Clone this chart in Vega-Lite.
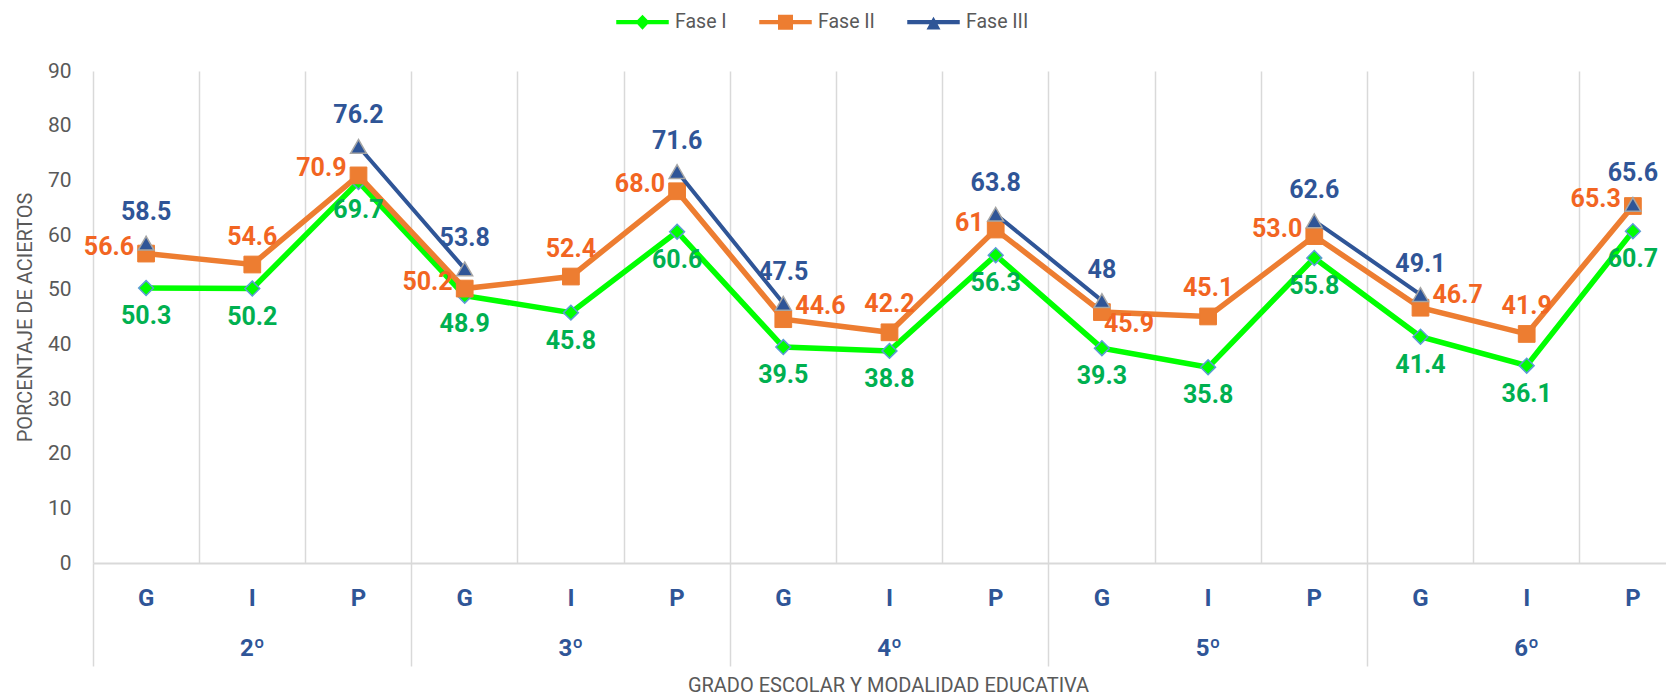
{
  "$schema": "https://vega.github.io/schema/vega-lite/v6.json",
  "width": 1593,
  "height": 492,
  "autosize": {"type": "none"},
  "padding": {"left": 93, "top": 71, "right": -20, "bottom": 133},
  "background": "#FFFFFF",
  "config": {
    "view": {"stroke": null},
    "font": "Roboto",
    "text": {"font": "Roboto", "fontWeight": "bold", "fontSize": 25, "baseline": "middle"}
  },
  "datasets": {
    "d": [
      {"grado": "2º", "modalidad": "G", "cat": "2º G", "fase": "Fase I", "valor": 50.3, "etiqueta": "50.3"},
      {"grado": "2º", "modalidad": "I", "cat": "2º I", "fase": "Fase I", "valor": 50.2, "etiqueta": "50.2"},
      {"grado": "2º", "modalidad": "P", "cat": "2º P", "fase": "Fase I", "valor": 69.7, "etiqueta": "69.7"},
      {"grado": "3º", "modalidad": "G", "cat": "3º G", "fase": "Fase I", "valor": 48.9, "etiqueta": "48.9"},
      {"grado": "3º", "modalidad": "I", "cat": "3º I", "fase": "Fase I", "valor": 45.8, "etiqueta": "45.8"},
      {"grado": "3º", "modalidad": "P", "cat": "3º P", "fase": "Fase I", "valor": 60.6, "etiqueta": "60.6"},
      {"grado": "4º", "modalidad": "G", "cat": "4º G", "fase": "Fase I", "valor": 39.5, "etiqueta": "39.5"},
      {"grado": "4º", "modalidad": "I", "cat": "4º I", "fase": "Fase I", "valor": 38.8, "etiqueta": "38.8"},
      {"grado": "4º", "modalidad": "P", "cat": "4º P", "fase": "Fase I", "valor": 56.3, "etiqueta": "56.3"},
      {"grado": "5º", "modalidad": "G", "cat": "5º G", "fase": "Fase I", "valor": 39.3, "etiqueta": "39.3"},
      {"grado": "5º", "modalidad": "I", "cat": "5º I", "fase": "Fase I", "valor": 35.8, "etiqueta": "35.8"},
      {"grado": "5º", "modalidad": "P", "cat": "5º P", "fase": "Fase I", "valor": 55.8, "etiqueta": "55.8"},
      {"grado": "6º", "modalidad": "G", "cat": "6º G", "fase": "Fase I", "valor": 41.4, "etiqueta": "41.4"},
      {"grado": "6º", "modalidad": "I", "cat": "6º I", "fase": "Fase I", "valor": 36.1, "etiqueta": "36.1"},
      {"grado": "6º", "modalidad": "P", "cat": "6º P", "fase": "Fase I", "valor": 60.7, "etiqueta": "60.7"},
      {"grado": "2º", "modalidad": "G", "cat": "2º G", "fase": "Fase II", "valor": 56.6, "etiqueta": "56.6"},
      {"grado": "2º", "modalidad": "I", "cat": "2º I", "fase": "Fase II", "valor": 54.6, "etiqueta": "54.6"},
      {"grado": "2º", "modalidad": "P", "cat": "2º P", "fase": "Fase II", "valor": 70.9, "etiqueta": "70.9"},
      {"grado": "3º", "modalidad": "G", "cat": "3º G", "fase": "Fase II", "valor": 50.2, "etiqueta": "50.2"},
      {"grado": "3º", "modalidad": "I", "cat": "3º I", "fase": "Fase II", "valor": 52.4, "etiqueta": "52.4"},
      {"grado": "3º", "modalidad": "P", "cat": "3º P", "fase": "Fase II", "valor": 68.0, "etiqueta": "68.0"},
      {"grado": "4º", "modalidad": "G", "cat": "4º G", "fase": "Fase II", "valor": 44.6, "etiqueta": "44.6"},
      {"grado": "4º", "modalidad": "I", "cat": "4º I", "fase": "Fase II", "valor": 42.2, "etiqueta": "42.2"},
      {"grado": "4º", "modalidad": "P", "cat": "4º P", "fase": "Fase II", "valor": 61, "etiqueta": "61"},
      {"grado": "5º", "modalidad": "G", "cat": "5º G", "fase": "Fase II", "valor": 45.9, "etiqueta": "45.9"},
      {"grado": "5º", "modalidad": "I", "cat": "5º I", "fase": "Fase II", "valor": 45.1, "etiqueta": "45.1"},
      {"grado": "5º", "modalidad": "P", "cat": "5º P", "fase": "Fase II", "valor": 59.8, "etiqueta": "53.0"},
      {"grado": "6º", "modalidad": "G", "cat": "6º G", "fase": "Fase II", "valor": 46.7, "etiqueta": "46.7"},
      {"grado": "6º", "modalidad": "I", "cat": "6º I", "fase": "Fase II", "valor": 41.9, "etiqueta": "41.9"},
      {"grado": "6º", "modalidad": "P", "cat": "6º P", "fase": "Fase II", "valor": 65.3, "etiqueta": "65.3"},
      {"grado": "2º", "modalidad": "G", "cat": "2º G", "fase": "Fase III", "valor": 58.5, "etiqueta": "58.5"},
      {"grado": "2º", "modalidad": "I", "cat": "2º I", "fase": "Fase III", "valor": null, "etiqueta": null},
      {"grado": "2º", "modalidad": "P", "cat": "2º P", "fase": "Fase III", "valor": 76.2, "etiqueta": "76.2"},
      {"grado": "3º", "modalidad": "G", "cat": "3º G", "fase": "Fase III", "valor": 53.8, "etiqueta": "53.8"},
      {"grado": "3º", "modalidad": "I", "cat": "3º I", "fase": "Fase III", "valor": null, "etiqueta": null},
      {"grado": "3º", "modalidad": "P", "cat": "3º P", "fase": "Fase III", "valor": 71.6, "etiqueta": "71.6"},
      {"grado": "4º", "modalidad": "G", "cat": "4º G", "fase": "Fase III", "valor": 47.5, "etiqueta": "47.5"},
      {"grado": "4º", "modalidad": "I", "cat": "4º I", "fase": "Fase III", "valor": null, "etiqueta": null},
      {"grado": "4º", "modalidad": "P", "cat": "4º P", "fase": "Fase III", "valor": 63.8, "etiqueta": "63.8"},
      {"grado": "5º", "modalidad": "G", "cat": "5º G", "fase": "Fase III", "valor": 48, "etiqueta": "48"},
      {"grado": "5º", "modalidad": "I", "cat": "5º I", "fase": "Fase III", "valor": null, "etiqueta": null},
      {"grado": "5º", "modalidad": "P", "cat": "5º P", "fase": "Fase III", "valor": 62.6, "etiqueta": "62.6"},
      {"grado": "6º", "modalidad": "G", "cat": "6º G", "fase": "Fase III", "valor": 49.1, "etiqueta": "49.1"},
      {"grado": "6º", "modalidad": "I", "cat": "6º I", "fase": "Fase III", "valor": null, "etiqueta": null},
      {"grado": "6º", "modalidad": "P", "cat": "6º P", "fase": "Fase III", "valor": 65.6, "etiqueta": "65.6"}
    ]
  },
  "data": {"name": "d"},
  "encoding": {
    "x": {
      "field": "cat", "type": "nominal",
      "scale": {"type": "band", "paddingInner": 0, "paddingOuter": 0,
        "domain": ["2º G","2º I","2º P","3º G","3º I","3º P","4º G","4º I","4º P","5º G","5º I","5º P","6º G","6º I","6º P"]},
      "axis": null
    },
    "y": {
      "field": "valor", "type": "quantitative",
      "scale": {"domain": [0, 90], "nice": false, "zero": true},
      "axis": null
    }
  },
  "layer": [
    {
      "transform": [{"filter": "datum.fase === 'Fase I'"}],
      "mark": {"type": "line", "color": "#00FF00", "strokeWidth": 5.5},
      "encoding": {
        "x": {
          "field": "cat", "type": "nominal",
          "axis": {
            "orient": "bottom", "bandPosition": 0,
            "grid": true, "gridColor": "#D9D9D9", "gridWidth": 1.5,
            "ticks": false, "tickSize": 0,
            "domain": true, "domainColor": "#D9D9D9", "domainWidth": 2,
            "labelPadding": 35, "labelBaseline": "middle", "labelAngle": 0,
            "labelFont": "Roboto", "labelFontWeight": "bold", "labelFontSize": 24, "labelColor": "#2F5597",
            "labelExpr": "split(datum.value, ' ')[1]", "labelOverlap": false,
            "title": null
          }
        },
        "y": {
          "field": "valor", "type": "quantitative",
          "axis": {
            "orient": "left", "values": [0,10,20,30,40,50,60,70,80,90],
            "grid": false, "domain": false, "ticks": false, "tickSize": 0,
            "labelPadding": 22, "labelFont": "Roboto", "labelFontSize": 21, "labelColor": "#595959",
            "title": "PORCENTAJE DE ACIERTOS", "titleFont": "Roboto", "titleFontSize": 20,
            "titleFontWeight": "normal", "titleColor": "#595959",
            "titleX": -68, "titleY": 246, "titleAngle": -90, "titleBaseline": "middle", "titleAlign": "center"
          }
        }
      }
    },
    {
      "transform": [{"filter": "datum.fase === 'Fase I'"}],
      "mark": {"type": "point", "shape": "diamond", "filled": true, "fill": "#00FF00", "stroke": "#5B9BD5", "strokeWidth": 1.5, "size": 220, "opacity": 1}
    },
    {
      "transform": [{"filter": "datum.fase === 'Fase II'"}],
      "mark": {"type": "line", "color": "#ED7D31", "strokeWidth": 5.5},
      "encoding": {
        "x": {
          "field": "cat", "type": "nominal",
          "axis": {
            "orient": "bottom", "bandPosition": 0,
            "values": ["2º G","3º G","4º G","5º G","6º G"],
            "labelOffset": 106.2,
            "grid": false, "domain": false,
            "ticks": true, "tickSize": 103, "tickColor": "#D9D9D9", "tickWidth": 1.5,
            "labelPadding": -18, "labelBaseline": "middle", "labelAngle": 0,
            "labelFont": "Roboto", "labelFontWeight": "bold", "labelFontSize": 24, "labelColor": "#2F5597",
            "labelExpr": "split(datum.value, ' ')[0]", "labelOverlap": false,
            "title": "GRADO ESCOLAR Y MODALIDAD EDUCATIVA", "titleFont": "Roboto", "titleFontSize": 20,
            "titleFontWeight": "normal", "titleColor": "#595959",
            "titleX": 795, "titleY": 122, "titleBaseline": "middle", "titleAlign": "center"
          }
        }
      }
    },
    {
      "transform": [{"filter": "datum.fase === 'Fase II'"}],
      "mark": {"type": "point", "shape": "square", "filled": true, "fill": "#ED7D31", "stroke": "#ED7D31", "strokeWidth": 1, "size": 280, "opacity": 1}
    },
    {
      "transform": [{"filter": "datum.fase === 'Fase III'"}],
      "mark": {"type": "line", "color": "#2F5597", "strokeWidth": 4}
    },
    {
      "transform": [{"filter": "datum.fase === 'Fase III'"}],
      "mark": {"type": "point", "shape": "triangle-up", "filled": true, "fill": "#2F5597", "stroke": "#A5A5A5", "strokeWidth": 1.5, "size": 250, "opacity": 1}
    },
    {
      "transform": [{"filter": "datum.fase === 'Fase I'"}],
      "mark": {"type": "text", "color": "#00B050", "dy": 28, "align": "center"},
      "encoding": {"text": {"field": "etiqueta"}}
    },
    {
      "transform": [{"filter": "datum.fase === 'Fase II' && indexof(['2º G','2º P','3º G','3º P','4º P','5º P','6º P'], datum.cat) >= 0"}],
      "mark": {"type": "text", "color": "#F26522", "dx": -12, "dy": -7, "align": "right"},
      "encoding": {"text": {"field": "etiqueta"}}
    },
    {
      "transform": [{"filter": "datum.fase === 'Fase II' && datum.modalidad === 'I'"}],
      "mark": {"type": "text", "color": "#F26522", "dy": -28, "align": "center"},
      "encoding": {"text": {"field": "etiqueta"}}
    },
    {
      "transform": [{"filter": "datum.fase === 'Fase II' && (datum.cat === '4º G' || datum.cat === '6º G')"}],
      "mark": {"type": "text", "color": "#F26522", "dx": 12, "dy": -13, "align": "left"},
      "encoding": {"text": {"field": "etiqueta"}}
    },
    {
      "transform": [{"filter": "datum.fase === 'Fase II' && datum.cat === '5º G'"}],
      "mark": {"type": "text", "color": "#F26522", "dx": 2, "dy": 12, "align": "left"},
      "encoding": {"text": {"field": "etiqueta"}}
    },
    {
      "transform": [{"filter": "datum.fase === 'Fase III'"}],
      "mark": {"type": "text", "color": "#2F5597", "dy": -31, "align": "center"},
      "encoding": {"text": {"field": "etiqueta"}}
    },
    {
      "mark": {"type": "point", "filled": true, "opacity": 1},
      "encoding": {
        "y": {"field": "sin_valor", "type": "quantitative", "axis": null},
        "color": {
          "field": "fase", "type": "nominal",
          "scale": {"domain": ["Fase I", "Fase II", "Fase III"], "range": ["#00FF00", "#ED7D31", "#2F5597"]},
          "legend": {
            "orient": "none", "legendX": 521, "legendY": -59, "direction": "horizontal",
            "title": null, "symbolSize": 225, "symbolStrokeWidth": 0,
            "symbolOffset": 18.75, "labelOffset": 22.75, "columnPadding": 30,
            "labelFont": "Roboto", "labelFontSize": 19.5, "labelColor": "#595959"
          }
        },
        "shape": {
          "field": "fase", "type": "nominal",
          "scale": {"domain": ["Fase I", "Fase II", "Fase III"], "range": [
            "M-3.5,-0.27L-0.68,-0.27L0,-1L0.68,-0.27L3.5,-0.27L3.5,0.27L0.68,0.27L0,1L-0.68,0.27L-3.5,0.27Z",
            "M-3.5,-0.27L-1,-0.27L-1,-1L1,-1L1,-0.27L3.5,-0.27L3.5,0.27L1,0.27L1,1L-1,1L-1,0.27L-3.5,0.27Z",
            "M-3.5,-0.27L-0.25,-0.27L0,-0.72L0.25,-0.27L3.5,-0.27L3.5,0.27L0.55,0.27L0.93,0.97L-0.93,0.97L-0.55,0.27L-3.5,0.27Z"
          ]}
        }
      }
    }
  ],
  "resolve": {"axis": {"x": "independent", "y": "independent"}}
}
